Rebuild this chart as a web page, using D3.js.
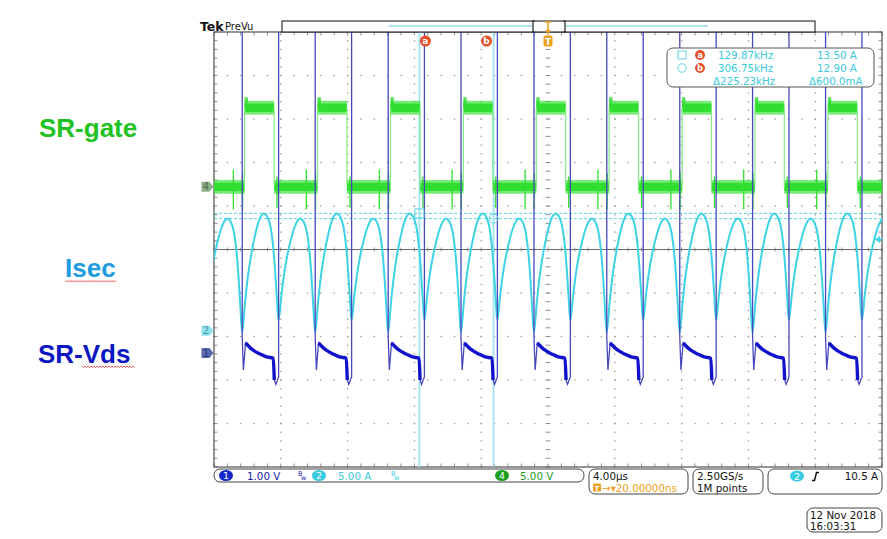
<!DOCTYPE html>
<html>
<head>
<meta charset="utf-8">
<script src="https://cdn.jsdelivr.net/npm/d3@7"></script>
<style>
  body { margin: 0; background: #fff; }
  svg { display: block; }
  text { font-family: "DejaVu Sans", sans-serif; }
  .big { font-family: "Liberation Sans", Arial, sans-serif; font-weight: bold; font-size: 26px; }
</style>
</head>
<body>
<svg id="scope" width="887" height="539"></svg>
<script>
// horizontal: 4 µs/div, 10 div, trigger at centre
const timeDomain = [-20, 20];

// channel setup: 1 = SR-Vds, 2 = Isec, 4 = SR-gate
const channelIds = ["1", "2", "4"];
const channelScale = [1.0, 5.0, 5.0];        // per division
const channelOffsetDiv = [-2.38, -1.87, 1.44]; // ground marker position
const channelScaleLabels = ["1.00 V", "5.00 A", "5.00 V"];

// SR-Vds edges (µs); first/last are just off screen
const srOn  = [-18.31, -13.94, -9.57, -5.21, -0.84, 3.52, 7.89, 12.25, 16.62, 20.99];
const srOff = [-20.49, -16.13, -11.76, -7.40, -3.03, 1.34, 5.70, 10.07, 14.43, 18.80];

// one SR-Vds conduction interval: head after turn-on, tail before turn-off (µs, V)
const vdsHeadT = [0, 0, 0.07, 0.2, 0.64, 1.06, 1.46];
const vdsHeadV = [8, 0.37, -0.39, 0.23, 0.07, -0.02, -0.09];
const vdsTailT = [-0.32, -0.26, -0.17, -0.05, 0, 0];
const vdsTailV = [-0.12, -0.62, -0.72, -0.60, -0.55, 8];

// SR-gate pulses (µs) and levels (V)
const gateRise = [-18.17, -13.80, -9.43, -5.07, -0.70, 3.66, 8.03, 12.39, 16.76];
const gateFall = [-16.40, -12.04, -7.66, -3.31, 1.06, 5.42, 9.79, 14.15, 18.52];
const gateHigh = 9.1;
const gateOvershoot = 10.3;
const gateNoise = 0.8;
// switching spikes on the gate: [dt from SR turn-on, min V, max V]
const gateSpikes = [[-0.53, -2.6, 2.0], [0.02, -2.6, 1.6], [2.08, -2.4, 1.2]];

// Isec hump, fraction of interval vs fraction of peak
const humpF = [0, 0.08, 0.16, 0.25, 0.34, 0.44, 0.52, 0.59, 0.67, 0.76, 0.84, 0.9, 0.95, 1];
const humpH = [0, 0.26, 0.48, 0.66, 0.8, 0.92, 0.98, 1, 0.98, 0.9, 0.72, 0.48, 0.22, 0];
const isecPeakOn = 13.5, isecPeakOff = 12.9;   // A
const isecTroughOn = -0.2, isecTroughOff = 1.2; // A

// cursors
const cursorTimes = [-7.70, -3.26];
const cursorLevels = [13.5, 12.9];
const cursorFreq = ["129.87kHz", "306.75kHz", "\u0394225.23kHz"];
const cursorAmps = ["13.50 A", "12.90 A", "\u0394600.0mA"];
const triggerLevel = 10.5;

const svg = d3.select("#scope");
const x = d3.scaleLinear().domain(timeDomain).range([214, 882]);
const yDiv = d3.scaleLinear().domain([-5, 5]).range([467, 32]);
const yCh = (c, v) => yDiv(channelOffsetDiv[c] + v / channelScale[c]);

// ---- graticule ----
const grat = svg.append("g");
const minorX = d3.range(0, 51).map(i => -20 + i * 0.8);
const minorY = d3.range(0, 51).map(i => -5 + i * 0.2);
const dots = [];
d3.range(1, 10).filter(k => k !== 5).forEach(k => {
  minorX.forEach(t => dots.push([x(t), yDiv(k - 5)]));
  minorY.forEach(d => dots.push([x(-20 + k * 4), yDiv(d)]));
});
grat.selectAll("rect.dot").data(dots).join("rect")
  .attr("class", "dot")
  .attr("x", d => d[0] - 0.6).attr("y", d => d[1] - 0.6)
  .attr("width", 1.3).attr("height", 1.3).attr("fill", "#959595");

grat.append("line").attr("x1", 214).attr("x2", 882)
  .attr("y1", yDiv(0)).attr("y2", yDiv(0)).attr("stroke", "#6a6a6a").attr("stroke-width", 1);

const tickSegs = [];
minorX.forEach(t => {
  tickSegs.push([x(t), yDiv(0) - 2, x(t), yDiv(0) + 2]);
  tickSegs.push([x(t), 32, x(t), 35.5]);
  tickSegs.push([x(t), 463.5, x(t), 467]);
});
minorY.forEach(d => {
  tickSegs.push([x(0) - 2.5, yDiv(d), x(0) + 2.5, yDiv(d)]);
  tickSegs.push([214, yDiv(d), 217.5, yDiv(d)]);
  tickSegs.push([878.5, yDiv(d), 882, yDiv(d)]);
});
grat.selectAll("line.tick").data(tickSegs).join("line")
  .attr("class", "tick")
  .attr("x1", d => d[0]).attr("y1", d => d[1]).attr("x2", d => d[2]).attr("y2", d => d[3])
  .attr("stroke", "#777").attr("stroke-width", 0.8);

grat.append("rect").attr("x", 214).attr("y", 32).attr("width", 668).attr("height", 435)
  .attr("fill", "none").attr("stroke", "#505050").attr("stroke-width", 1.2);

// ---- traces ----
svg.append("clipPath").attr("id", "screen").append("rect")
  .attr("x", 214).attr("y", 32).attr("width", 668).attr("height", 435);
const tr = svg.append("g").attr("clip-path", "url(#screen)");

// cursors (behind traces)
tr.selectAll("line.vcur").data(cursorTimes).join("line")
  .attr("class", "vcur")
  .attr("x1", d => x(d)).attr("x2", d => x(d)).attr("y1", 32).attr("y2", 467)
  .attr("stroke", "#9fe4ef").attr("stroke-width", 1.8);
tr.selectAll("line.hcur").data(cursorLevels).join("line")
  .attr("class", "hcur")
  .attr("x1", 214).attr("x2", 882).attr("y1", d => yCh(1, d)).attr("y2", d => yCh(1, d))
  .attr("stroke", "#5cd5e6").attr("stroke-width", 1).attr("stroke-dasharray", "3,2");

// SR-gate (ch4)
const green = "#30de30";
const lowStarts = [timeDomain[0], ...gateFall];
const lowEnds = [...gateRise, timeDomain[1]];
const band = (lo, hi) => d3.area().x(d => x(d)).y0(yCh(2, lo)).y1(yCh(2, hi));
const gG = tr.append("g");
const drawBand = (s, e, mid) => {
  gG.append("path").datum([s, e]).attr("d", band(mid - gateNoise, mid + gateNoise))
    .attr("fill", green).attr("opacity", 0.65);
  gG.append("path").datum([s, e]).attr("d", band(mid - gateNoise * 0.6, mid + gateNoise * 0.6))
    .attr("fill", green);
};
lowStarts.forEach((s, i) => drawBand(s, lowEnds[i], 0));
gateRise.forEach((r, i) => {
  const f = gateFall[i];
  drawBand(r, f, gateHigh);
  gG.append("path").datum([r, r + 0.2]).attr("d", band(gateHigh, gateOvershoot))
    .attr("fill", green).attr("opacity", 0.85);
  [r, f].forEach(t => gG.append("line")
    .attr("x1", x(t)).attr("x2", x(t)).attr("y1", yCh(2, 0)).attr("y2", yCh(2, gateHigh))
    .attr("stroke", "#86ec86").attr("stroke-width", 1.2));
});
const spikes = [];
srOn.forEach(on => gateSpikes.forEach(s => spikes.push([on + s[0], s[1], s[2]])));
gG.selectAll("line.spk").data(spikes).join("line")
  .attr("class", "spk")
  .attr("x1", d => x(d[0])).attr("x2", d => x(d[0]))
  .attr("y1", d => yCh(2, d[1])).attr("y2", d => yCh(2, d[2]))
  .attr("stroke", green).attr("stroke-width", 1.3);

// Isec (ch2)
const isecEdges = [...srOff, ...srOn].sort((a, b) => a - b);
const peakIdx = humpH.indexOf(1);
const isecPoints = [];
for (let i = 0; i < isecEdges.length - 1; i++) {
  const e0 = isecEdges[i], e1 = isecEdges[i + 1];
  const cond = srOn.includes(e0);
  const I0 = cond ? isecTroughOn : isecTroughOff;
  const I1 = cond ? isecTroughOff : isecTroughOn;
  const Ip = cond ? isecPeakOn : isecPeakOff;
  humpF.forEach((f, j) => {
    if (i > 0 && j === 0) return;
    const base = j <= peakIdx ? I0 : I1;
    isecPoints.push([e0 + f * (e1 - e0), base + humpH[j] * (Ip - base)]);
  });
}
tr.append("path").datum(isecPoints)
  .attr("d", d3.line().x(d => x(d[0])).y(d => yCh(1, d[1])).curve(d3.curveCatmullRom.alpha(0.5)))
  .attr("fill", "none").attr("stroke", "#3ed3e4").attr("stroke-width", 2);

// SR-Vds (ch1)
const vdsLine = d3.line().x(d => x(d[0])).y(d => yCh(0, d[1]));
const vdsAll = [], vdsFlat = [];
for (let i = 0; i < srOn.length - 1; i++) {
  const on = srOn[i], off = srOff[i + 1];
  const flat = [];
  vdsHeadT.forEach((dt, j) => {
    vdsAll.push([on + dt, vdsHeadV[j]]);
    if (j >= 3) flat.push([on + dt, vdsHeadV[j]]);
  });
  vdsTailT.forEach((dt, j) => {
    vdsAll.push([off + dt, vdsTailV[j]]);
    if (j <= 1) flat.push([off + dt, vdsTailV[j]]);
  });
  vdsFlat.push(flat);
}
tr.append("path").datum(vdsAll).attr("d", vdsLine)
  .attr("fill", "none").attr("stroke", "#4848bc").attr("stroke-width", 1.3);
tr.selectAll("path.flat").data(vdsFlat).join("path")
  .attr("class", "flat").attr("d", d3.line().x(d => x(d[0])).y(d => yCh(0, d[1])).curve(d3.curveMonotoneX))
  .attr("fill", "none").attr("stroke", "#1212cc").attr("stroke-width", 3.4);

// cursor markers on the trace
tr.append("rect").attr("x", x(cursorTimes[0]) - 4.5).attr("y", yCh(1, cursorLevels[0]) - 4.5)
  .attr("width", 9).attr("height", 9).attr("fill", "none").attr("stroke", "#5cd5e6");
tr.append("circle").attr("cx", x(cursorTimes[1])).attr("cy", yCh(1, cursorLevels[1])).attr("r", 4.5)
  .attr("fill", "none").attr("stroke", "#5cd5e6");

// trigger level arrow on the right edge
const yt = yCh(1, triggerLevel);
svg.append("path").attr("d", `M875,${yt} l5,-3.5 v2.5 h2 v2 h-2 v2.5 z`).attr("fill", "#3fd4e4");

// ---- channel ground markers ----
const markerFill = ["#5a68ad", "#90e0ea", "#8cae8c"];
const markerText = ["#27347a", "#3e9aac", "#4f704f"];
[0, 1, 2].forEach(c => {
  const y = yCh(c, 0);
  const g = svg.append("g");
  g.append("path").attr("d", `M201.5,${y - 5} h8 l4,5 l-4,5 h-8 z`).attr("fill", markerFill[c]);
  g.append("text").attr("x", 206).attr("y", y + 3.5).attr("text-anchor", "middle")
    .attr("font-size", 10).attr("fill", markerText[c]).text(channelIds[c]);
});

// ---- big labels ----
svg.append("text").attr("class", "big").attr("x", 39).attr("y", 137).attr("fill", "#21c221").text("SR-gate");
svg.append("text").attr("class", "big").attr("x", 65).attr("y", 277).attr("fill", "#1f9ce0").text("Isec");
svg.append("text").attr("class", "big").attr("x", 38).attr("y", 363).attr("fill", "#0b17c2").text("SR-Vds");
const squiggle = (x0, x1, y) => {
  let p = `M${x0},${y}`;
  for (let xx = x0 + 1.5, k = 0; xx <= x1; xx += 1.5, k++) p += ` L${xx},${y + (k % 2 ? 0 : 1.6)}`;
  return p;
};
[[65, 116, 280.5], [82, 135, 366]].forEach(s => svg.append("path").attr("d", squiggle(...s))
  .attr("fill", "none").attr("stroke", "#e04848").attr("stroke-width", 0.9));

// ---- top bar ----
svg.append("text").attr("x", 200).attr("y", 31).attr("font-family", "Liberation Sans, Arial")
  .attr("font-weight", "bold").attr("font-size", 12.5).attr("fill", "#111").text("Tek");
svg.append("text").attr("x", 225).attr("y", 30).attr("font-size", 10).attr("fill", "#111").text("PreVu");
svg.append("rect").attr("x", 282).attr("y", 21).attr("width", 533).attr("height", 11)
  .attr("fill", "#fff").attr("stroke", "#222").attr("stroke-width", 1.1);
[[389, 532], [566, 708]].forEach(s => svg.append("line").attr("x1", s[0]).attr("x2", s[1])
  .attr("y1", 26).attr("y2", 26).attr("stroke", "#a9e5ef").attr("stroke-width", 2));
svg.append("path").attr("d", "M535,21 h-2 v11 h2 M563,21 h2 v11 h-2")
  .attr("fill", "none").attr("stroke", "#222").attr("stroke-width", 1.2);
svg.append("path").attr("d", `M${x(0) - 3},22 h6 M${x(0)},22 v10 M${x(0) - 2},30 l2,3 l2,-3`)
  .attr("fill", "none").attr("stroke", "#f0a020").attr("stroke-width", 1.6);
svg.append("rect").attr("x", x(0) - 4.5).attr("y", 35.5).attr("width", 9).attr("height", 11).attr("rx", 2)
  .attr("fill", "#f0a020");
svg.append("text").attr("x", x(0)).attr("y", 45).attr("text-anchor", "middle").attr("font-size", 9)
  .attr("font-weight", "bold").attr("fill", "#fff").text("T");
[["a", x(cursorTimes[0]) + 6], ["b", x(cursorTimes[1]) - 7]].forEach(m => {
  svg.append("circle").attr("cx", m[1]).attr("cy", 41).attr("r", 5.5).attr("fill", "#e5502a");
  svg.append("text").attr("x", m[1]).attr("y", 44.3).attr("text-anchor", "middle").attr("font-size", 9)
    .attr("font-weight", "bold").attr("fill", "#fff").text(m[0]);
});

// ---- cursor readout ----
const ro = svg.append("g");
ro.append("rect").attr("x", 667).attr("y", 48).attr("width", 207).attr("height", 39).attr("rx", 6)
  .attr("fill", "#fff").attr("stroke", "#555").attr("stroke-width", 1);
ro.append("rect").attr("x", 678).attr("y", 51).attr("width", 8).attr("height", 8)
  .attr("fill", "none").attr("stroke", "#5cd5e6");
ro.append("circle").attr("cx", 682).attr("cy", 68).attr("r", 4.2).attr("fill", "none").attr("stroke", "#5cd5e6");
[["a", 55], ["b", 68]].forEach(m => {
  ro.append("circle").attr("cx", 700).attr("cy", m[1]).attr("r", 5).attr("fill", "#e5502a");
  ro.append("text").attr("x", 700).attr("y", m[1] + 3.3).attr("text-anchor", "middle").attr("font-size", 8.5)
    .attr("font-weight", "bold").attr("fill", "#fff").text(m[0]);
});
const roX1 = [718, 718, 713], roX2 = [817, 817, 809], roY = [58.5, 71.5, 84.5];
cursorFreq.forEach((t, i) => ro.append("text").attr("x", roX1[i]).attr("y", roY[i])
  .attr("font-size", 10.3).attr("fill", "#3cc9dc").text(t));
cursorAmps.forEach((t, i) => ro.append("text").attr("x", roX2[i]).attr("y", roY[i])
  .attr("font-size", 10.3).attr("fill", "#3cc9dc").text(t));

// ---- bottom status bar ----
const bb = svg.append("g");
const box = (x0, y0, w, h) => bb.append("rect").attr("x", x0).attr("y", y0).attr("width", w).attr("height", h)
  .attr("rx", 6).attr("fill", "#fff").attr("stroke", "#444").attr("stroke-width", 1);
const txt = (s, x0, y0, col, anchor) => bb.append("text").attr("x", x0).attr("y", y0)
  .attr("font-size", 10.3).attr("fill", col).attr("text-anchor", anchor || "start").text(s);
const badge = (id, cx, cy, col) => {
  bb.append("ellipse").attr("cx", cx).attr("cy", cy).attr("rx", 7).attr("ry", 5.5).attr("fill", col);
  bb.append("text").attr("x", cx).attr("y", cy + 3.5).attr("text-anchor", "middle").attr("font-size", 9.5)
    .attr("fill", "#fff").text(id);
};
const bw = (x0, col) => {
  bb.append("text").attr("x", x0).attr("y", 476).attr("font-size", 6.5).attr("fill", col).text("B");
  bb.append("text").attr("x", x0 + 3).attr("y", 480).attr("font-size", 6.5).attr("fill", col).text("w");
};
box(214, 469, 370, 13);
badge(channelIds[0], 226, 475.5, "#1428c8");
txt(channelScaleLabels[0], 247, 479.5, "#1a1a9e");
bw(298, "#1a1a9e");
badge(channelIds[1], 319, 475.5, "#38cbe0");
txt(channelScaleLabels[1], 338, 479.5, "#3cc9dc");
bw(391, "#3cc9dc");
badge(channelIds[2], 502, 475.5, "#1e9e1e");
txt(channelScaleLabels[2], 520, 479.5, "#1e9a1e");

box(589, 469, 99, 25);
txt("4.00\u00b5s", 593, 480, "#111");
bb.append("rect").attr("x", 593).attr("y", 483.5).attr("width", 8).attr("height", 8).attr("rx", 1).attr("fill", "#f0a020");
bb.append("text").attr("x", 597).attr("y", 490.5).attr("text-anchor", "middle").attr("font-size", 7)
  .attr("font-weight", "bold").attr("fill", "#fff").text("T");
txt("\u2192\u25be20.00000ns", 602, 491.5, "#f0a020");

box(693, 469, 70, 25);
txt("2.50GS/s", 697, 480, "#111");
txt("1M points", 697, 491.5, "#111");

box(768, 469, 114, 25);
badge(channelIds[1], 797, 476, "#38cbe0");
bb.append("path").attr("d", "M812,480.5 h2.5 l2,-8 h2.5").attr("fill", "none").attr("stroke", "#111").attr("stroke-width", 1.5);
txt(triggerLevel.toFixed(1) + " A", 878, 480, "#111", "end");

box(807, 508, 75, 24);
txt("12 Nov 2018", 810, 518.5, "#111");
txt("16:03:31", 810, 530, "#111");
</script>
</body>
</html>
